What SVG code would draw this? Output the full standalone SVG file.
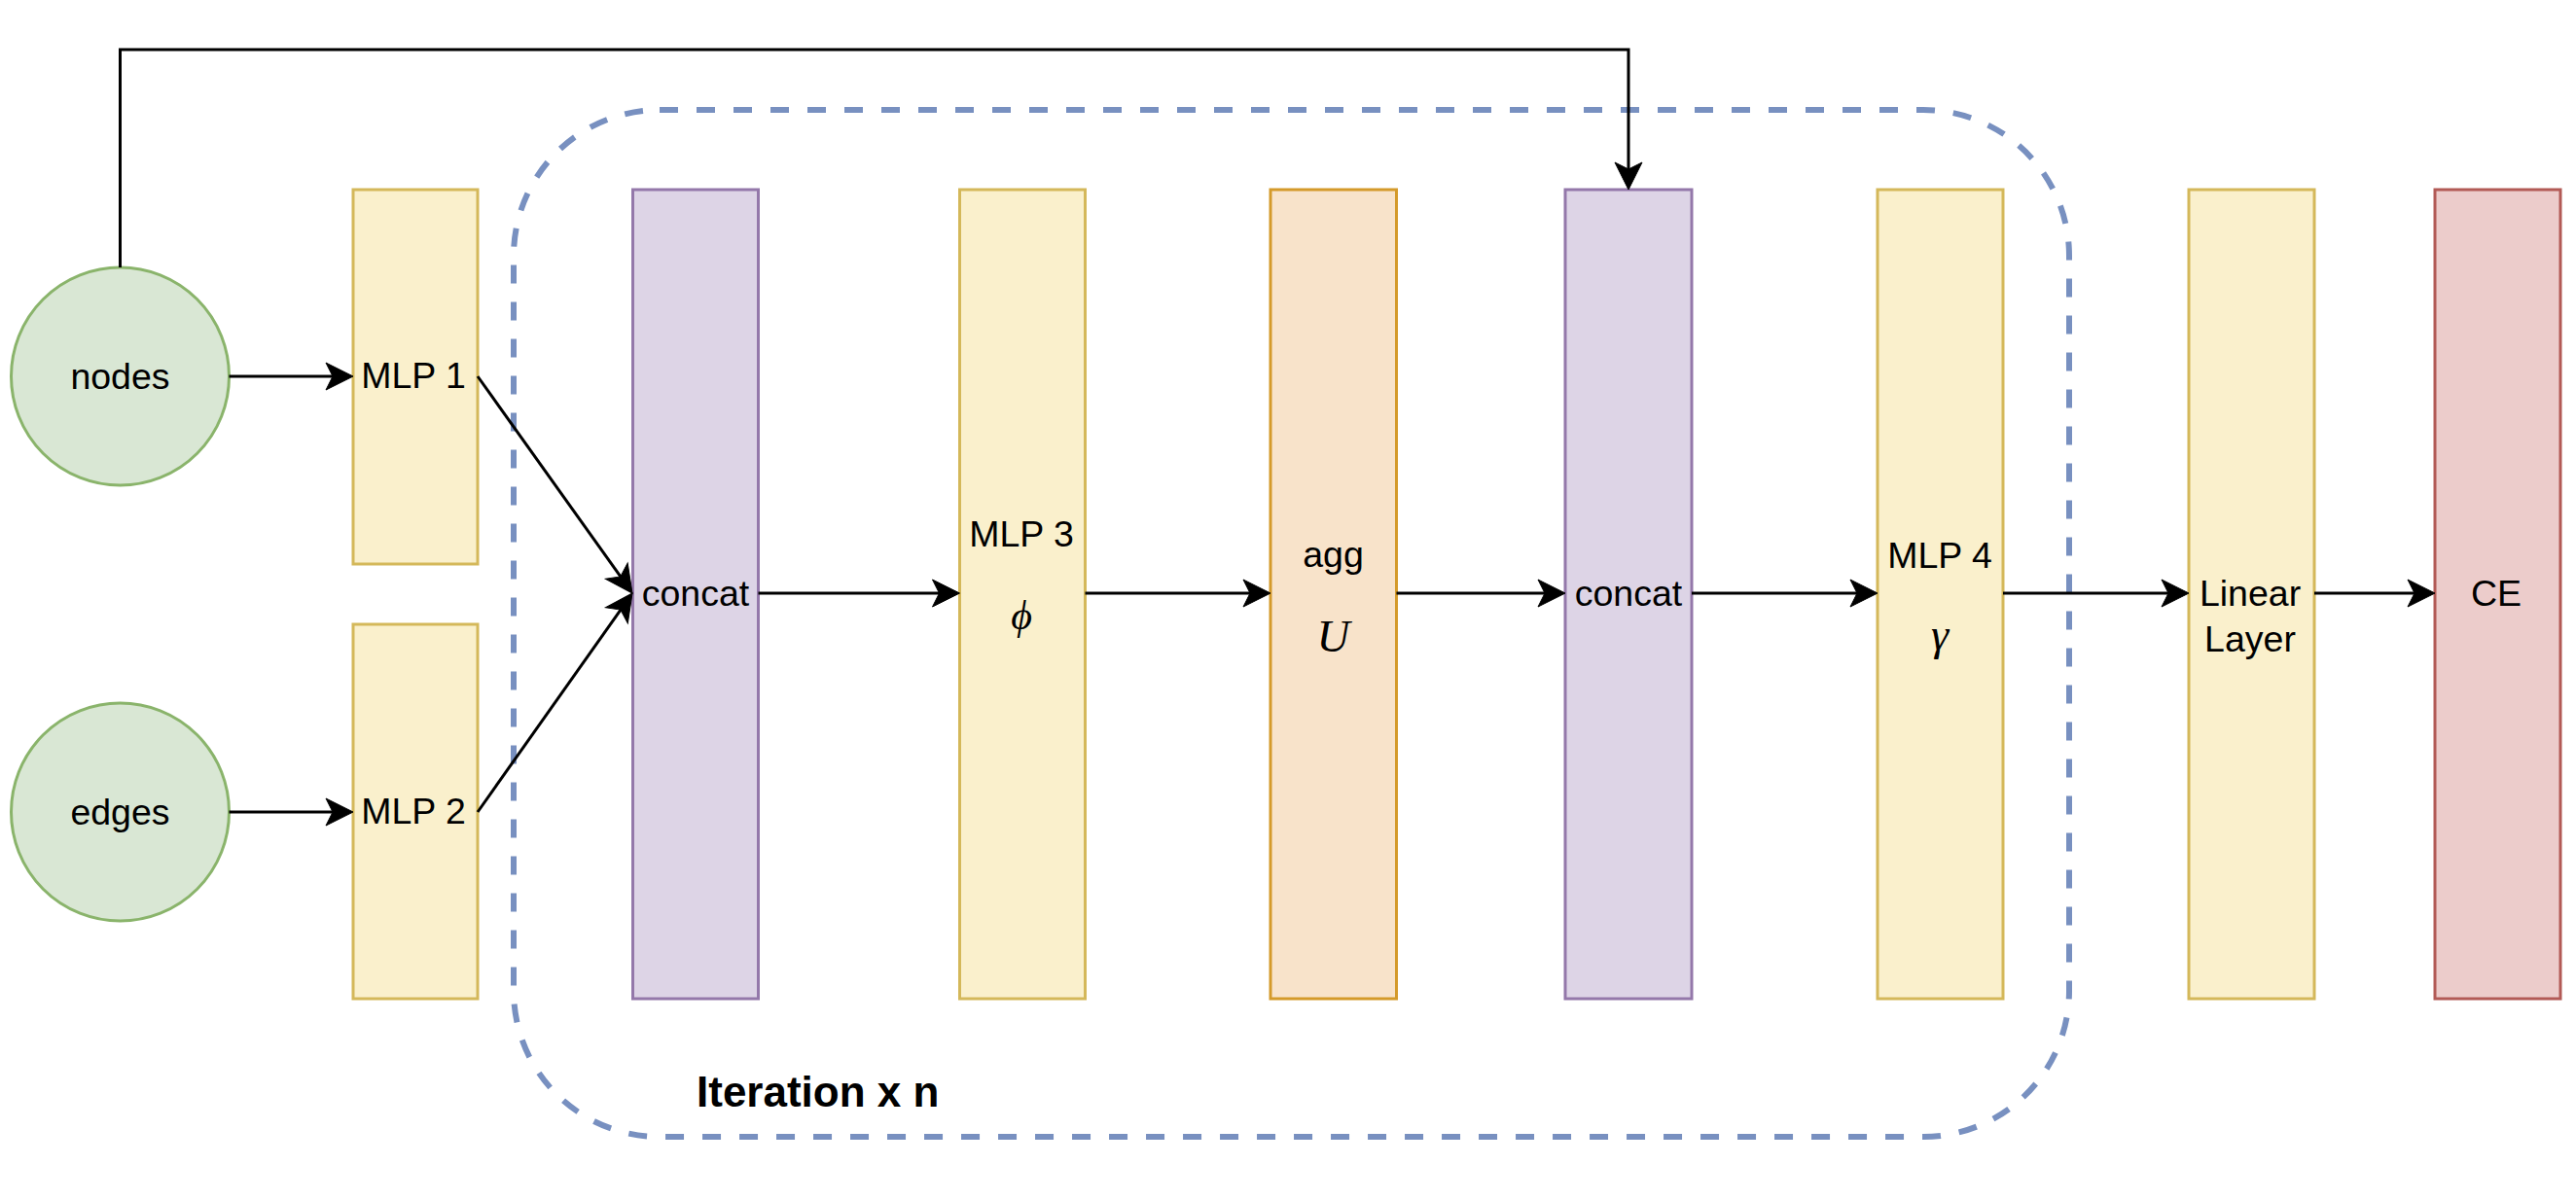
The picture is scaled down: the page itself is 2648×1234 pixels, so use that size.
<svg xmlns="http://www.w3.org/2000/svg" width="2648" height="1234" viewBox="0 0 2648 1234">
  <defs>
    <style>
      .lbl { font-family: "Liberation Sans", Arial, Helvetica, sans-serif; font-size: 37.5px; fill: #000; text-anchor: middle; }
      .math { font-family: "Liberation Serif", "DejaVu Serif", "Times New Roman", serif; font-style: italic; fill: #000; text-anchor: middle; }
      .bold { font-family: "Liberation Sans", Arial, Helvetica, sans-serif; font-size: 44px; font-weight: bold; fill: #000; }
      .yellow { fill: #faf0cc; stroke: #d4b85a; stroke-width: 3; }
      .purple { fill: #ddd4e6; stroke: #9478aa; stroke-width: 3; }
      .orange { fill: #f8e3ca; stroke: #d49a2a; stroke-width: 3; }
      .red { fill: #eccccb; stroke: #b25a56; stroke-width: 3; }
      .green { fill: #d9e7d4; stroke: #8ab46b; stroke-width: 3; }
      .edge { fill: none; stroke: #000; stroke-width: 3; marker-end: url(#arrow); }
      .plain { fill: none; stroke: #000; stroke-width: 3; }
      .group { fill: none; stroke: #7890c0; stroke-width: 6; stroke-dasharray: 19 19; }
    </style>
    <marker id="arrow" markerUnits="userSpaceOnUse" markerWidth="40" markerHeight="40" viewBox="-10 -20 40 40" refX="0" refY="0" orient="auto" overflow="visible">
      <path d="M20,0 L-8,-14 L-1,0 L-8,14 Z" fill="#000" stroke="#000" stroke-width="1" stroke-linejoin="miter"/>
    </marker>
  </defs>

  <rect x="0" y="0" width="2648" height="1234" fill="#ffffff"/>

  <g id="iteration-group">
    <rect class="group" x="528" y="113" width="1599" height="1056" rx="150" ry="150"/>
    <text class="bold" x="716" y="1138">Iteration x n</text>
  </g>

  <g id="node-nodes">
    <circle class="green" cx="123.5" cy="387" r="112"/>
    <text class="lbl" x="123.5" y="400">nodes</text>
  </g>
  <g id="node-edges">
    <circle class="green" cx="123.5" cy="835" r="112"/>
    <text class="lbl" x="123.5" y="848">edges</text>
  </g>
  <g id="node-mlp1">
    <rect class="yellow" x="363" y="195" width="128" height="385"/>
    <text class="lbl" x="425" y="399">MLP 1</text>
  </g>
  <g id="node-mlp2">
    <rect class="yellow" x="363" y="642" width="128" height="385"/>
    <text class="lbl" x="425" y="847">MLP 2</text>
  </g>
  <g id="node-concat1">
    <rect class="purple" x="650.5" y="195" width="129" height="832"/>
    <text class="lbl" x="715" y="623">concat</text>
  </g>
  <g id="node-mlp3">
    <rect class="yellow" x="986.5" y="195" width="129" height="832"/>
    <text class="lbl" x="1050" y="562">MLP 3</text>
    <text class="math" x="1050" y="647" font-size="42">ϕ</text>
  </g>
  <g id="node-agg">
    <rect class="orange" x="1306" y="195" width="129.5" height="832"/>
    <text class="lbl" x="1370.5" y="583">agg</text>
    <text class="math" x="1370.5" y="670" font-size="47">U</text>
  </g>
  <g id="node-concat2">
    <rect class="purple" x="1609" y="195" width="130" height="832"/>
    <text class="lbl" x="1674" y="623">concat</text>
  </g>
  <g id="node-mlp4">
    <rect class="yellow" x="1930" y="195" width="129" height="832"/>
    <text class="lbl" x="1994" y="584">MLP 4</text>
    <text class="math" x="1994" y="668" font-size="46">γ</text>
  </g>
  <g id="node-linear">
    <rect class="yellow" x="2250" y="195" width="129" height="832"/>
    <text class="lbl" x="2313" y="623">Linear</text>
    <text class="lbl" x="2313" y="670">Layer</text>
  </g>
  <g id="node-ce">
    <rect class="red" x="2503" y="195" width="129" height="832"/>
    <text class="lbl" x="2566" y="623">CE</text>
  </g>

  <g id="connectors">
    <path class="edge" d="M123.5,275 V51 H1674 V175"/>
    <path class="edge" d="M235.5,387 H343"/>
    <path class="edge" d="M235.5,835 H343"/>
    <path class="edge" d="M491,387 L638.4,593.7"/>
    <path class="edge" d="M491,835 L638.5,626.3"/>
    <path class="edge" d="M779.5,610 H966.5"/>
    <path class="edge" d="M1115.5,610 H1286"/>
    <path class="edge" d="M1435.5,610 H1589"/>
    <path class="edge" d="M1739,610 H1910"/>
    <path class="edge" d="M2059,610 H2230"/>
    <path class="edge" d="M2379,610 H2483"/>
  </g>
</svg>
